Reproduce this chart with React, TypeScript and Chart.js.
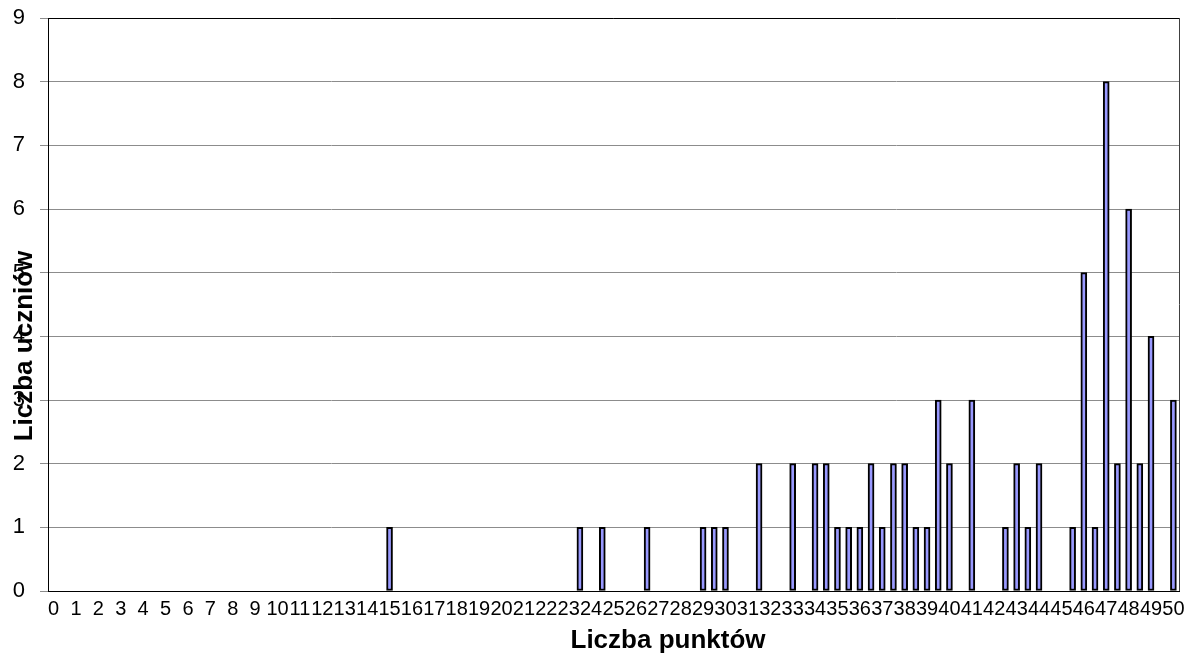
import { useEffect, useRef } from "react";
import { Chart, registerables } from "chart.js";

Chart.register(...registerables);

// Scores that were achieved (in half-point steps) and how many students got each one
const scores = [
  15, 23.5, 24.5, 26.5, 29, 29.5, 30, 31.5, 33, 34, 34.5, 35, 35.5, 36, 36.5, 37, 37.5, 38,
  38.5, 39, 39.5, 40, 41, 42.5, 43, 43.5, 44, 45.5, 46, 46.5, 47, 47.5, 48, 48.5, 49, 50,
];
const counts = [
  1, 1, 1, 1, 1, 1, 1, 2, 2, 2, 2, 1, 1, 1, 2, 1, 2, 2,
  1, 1, 3, 2, 3, 1, 2, 1, 2, 1, 5, 1, 8, 2, 6, 2, 4, 3,
];

// Category axis: every half point from 0 to 50, only whole points are labelled
const maxPoints = 50;
const halfSteps = Array.from({ length: maxPoints * 2 + 1 }, (_, i) => i / 2);
const tickLabels = halfSteps.map((v) => (Number.isInteger(v) ? String(v) : ""));
const studentCounts = halfSteps.map((v) => {
  const k = scores.indexOf(v);
  return k >= 0 ? counts[k] : null;
});

const yTicks = [0, 1, 2, 3, 4, 5, 6, 7, 8, 9];
const xTitle = "Liczba punktów";
const yTitle = "Liczba uczniów";

const FONT = "'Liberation Sans', Arial, sans-serif";

const frameAndTitles = {
  id: "frameAndTitles",
  afterDraw(chart: Chart) {
    const { ctx, chartArea } = chart;
    ctx.save();
    // top and right edges of the plot area
    ctx.lineWidth = 1;
    ctx.strokeStyle = "#000000";
    ctx.beginPath();
    ctx.moveTo(Math.round(chartArea.left), Math.round(chartArea.top) + 0.5);
    ctx.lineTo(Math.round(chartArea.right), Math.round(chartArea.top) + 0.5);
    ctx.stroke();
    ctx.strokeStyle = "#404040";
    ctx.beginPath();
    ctx.moveTo(Math.round(chartArea.right) + 0.5, Math.round(chartArea.top));
    ctx.lineTo(Math.round(chartArea.right) + 0.5, Math.round(chartArea.bottom));
    ctx.stroke();

    ctx.font = `bold 26px ${FONT}`;
    ctx.fillStyle = "#000000";
    ctx.textAlign = "center";
    ctx.textBaseline = "middle";
    // horizontal axis title
    ctx.fillText(xTitle, 668, 641);
    // vertical axis title
    ctx.translate(25, 346);
    ctx.rotate(-Math.PI / 2);
    ctx.fillText(yTitle, 0, 0);
    ctx.restore();
  },
};

export default function App() {
  const canvasRef = useRef<HTMLCanvasElement | null>(null);

  useEffect(() => {
    const canvas = canvasRef.current;
    if (!canvas) return;
    const chart = new Chart(canvas, {
      type: "bar",
      data: {
        labels: tickLabels,
        datasets: [
          {
            data: studentCounts,
            backgroundColor: "#9999FF",
            borderColor: "#000000",
            borderWidth: 2,
            borderSkipped: false,
            barThickness: 6,
          },
        ],
      },
      options: {
        responsive: false,
        animation: false,
        events: [],
        layout: { padding: { top: 18, right: 16, left: 0, bottom: 0 } },
        plugins: {
          legend: { display: false },
          tooltip: { enabled: false },
        },
        scales: {
          x: {
            type: "category",
            offset: true,
            grid: { display: false, drawTicks: false },
            border: { display: true, color: "#000000", width: 1 },
            ticks: {
              autoSkip: false,
              maxRotation: 0,
              minRotation: 0,
              padding: 6,
              color: "#000000",
              font: { family: FONT, size: 20 },
            },
            afterFit(scale: any) {
              scale.height = 71;
              scale.paddingLeft = 0;
              scale.paddingRight = 0;
            },
          },
          y: {
            min: 0,
            max: 9,
            afterBuildTicks(scale: any) {
              scale.ticks = yTicks.map((v) => ({ value: v }));
            },
            grid: {
              color: "#8c8c8c",
              tickColor: "#8c8c8c",
              tickLength: 8,
              lineWidth: 1,
            },
            border: { display: true, color: "#000000", width: 1 },
            ticks: {
              padding: 15,
              color: "#000000",
              font: { family: FONT, size: 22 },
            },
            afterFit(scale: any) {
              scale.width = 48;
              scale.paddingTop = 0;
              scale.paddingBottom = 0;
            },
          },
        },
      },
      plugins: [frameAndTitles],
    });
    return () => chart.destroy();
  }, []);

  return (
    <div style={{ position: "fixed", left: 0, top: 0, width: 1195, height: 662, background: "#ffffff" }}>
      <canvas ref={canvasRef} width={1195} height={662} />
    </div>
  );
}
